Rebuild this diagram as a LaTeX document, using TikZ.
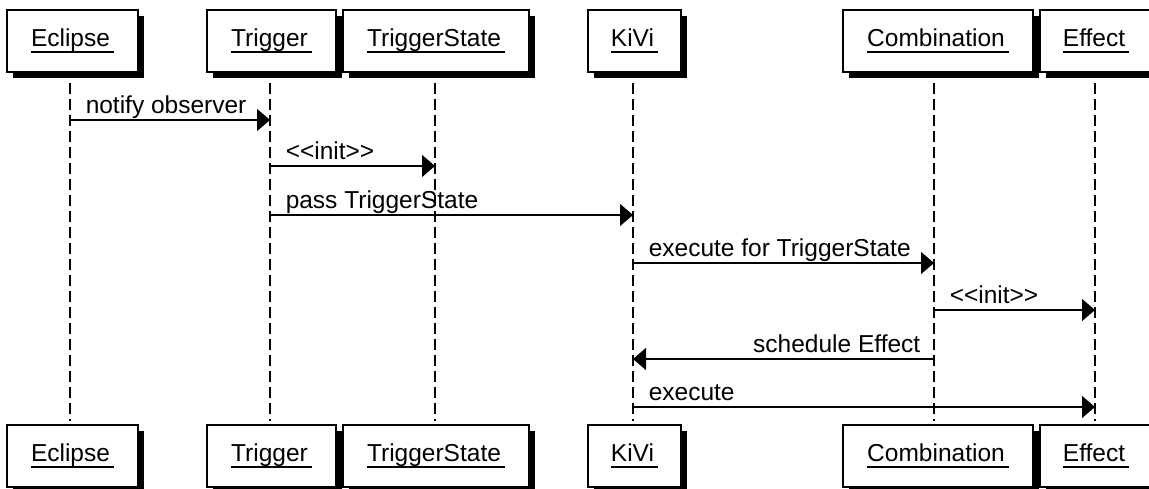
\documentclass[tikz,border=0pt]{standalone}
\usepackage{fontspec}
\setmainfont{Liberation Sans}
\usetikzlibrary{arrows.meta,shadows}
\newcommand\ulab[1]{\setbox0\hbox{#1\kern4pt}\rlap{\rule[-6.2pt]{\wd0}{1.6pt}}\box0}
\tikzset{
  box/.style={draw, line width=1.8pt, fill=white, minimum height=62pt, inner sep=0pt,
    text height=17pt, text depth=6pt,
    drop shadow={shadow xshift=6pt, shadow yshift=-6pt, fill=black, opacity=1}},
  lifeline/.style={line width=1.7pt, dash pattern=on 11pt off 5pt},
  msg/.style={line width=1.5pt, -{Triangle[length=13pt,width=22pt]}},
  lbl/.style={inner sep=0pt, anchor=base west, xshift=15pt, yshift=7pt},
}
\begin{document}
\begin{tikzpicture}[x=1pt,y=-1pt,font=\fontsize{24.5pt}{28pt}\selectfont]
\useasboundingbox (0,0) rectangle (1149,488);
% top boxes
\node[box, minimum width=131pt] (eclT) at (72.5,41) {\ulab{Eclipse}};
\node[box, minimum width=129pt] (trgT) at (271.5,41) {\ulab{Trigger}};
\node[box, minimum width=186pt] (tstT) at (436,41) {\ulab{TriggerState}};
\node[box, minimum width=93pt] (kivT) at (634.5,41) {\ulab{KiVi}};
\node[box, minimum width=190pt] (comT) at (938,41) {\ulab{Combination}};
\node[box, minimum width=112pt] (effT) at (1096,41) {\ulab{Effect}};
% bottom boxes
\node[box, minimum width=131pt] (eclB) at (72.5,456) {\ulab{Eclipse}};
\node[box, minimum width=129pt] (trgB) at (271.5,456) {\ulab{Trigger}};
\node[box, minimum width=186pt] (tstB) at (436,456) {\ulab{TriggerState}};
\node[box, minimum width=93pt] (kivB) at (634.5,456) {\ulab{KiVi}};
\node[box, minimum width=190pt] (comB) at (938,456) {\ulab{Combination}};
\node[box, minimum width=112pt] (effB) at (1096,456) {\ulab{Effect}};
% lifeline anchors (slightly left of box centres, as in the reference)
\coordinate (eclL) at ([xshift=-2.5pt]eclT.south);
\coordinate (trgL) at ([xshift=-1.5pt]trgT.south);
\coordinate (tstL) at ([xshift=-1pt]tstT.south);
\coordinate (kivL) at ([xshift=-1.5pt]kivT.south);
\coordinate (comL) at ([xshift=-4pt]comT.south);
\coordinate (effL) at ([xshift=-1pt]effT.south);
% lifelines
\foreach \l/\b in {eclL/eclB, trgL/trgB, tstL/tstB, kivL/kivB, comL/comB, effL/effB}
  \draw[lifeline] ([yshift=-10pt]\l) -- ([yshift=3pt]\l |- \b.north);
% messages
\draw[msg] (eclL |- 0,120) -- node[at start, lbl] {notify observer} (trgL |- 0,120);
\draw[msg] (trgL |- 0,166) -- node[at start, lbl] {{<}{<}init{>}{>}} (tstL |- 0,166);
\draw[msg] (trgL |- 0,215) -- node[at start, lbl] {pass TriggerState} (kivL |- 0,215);
\draw[msg] (kivL |- 0,263) -- node[at start, lbl] {execute for TriggerState} (comL |- 0,263);
\draw[msg] (comL |- 0,310) -- node[at start, lbl] {{<}{<}init{>}{>}} (effL |- 0,310);
\draw[msg] (comL |- 0,359) -- node[at start, inner sep=0pt, anchor=base east, xshift=-13pt, yshift=7pt] {schedule Effect} (kivL |- 0,359);
\draw[msg] (kivL |- 0,407) -- node[at start, lbl] {execute} (effL |- 0,407);
\end{tikzpicture}
\end{document}
